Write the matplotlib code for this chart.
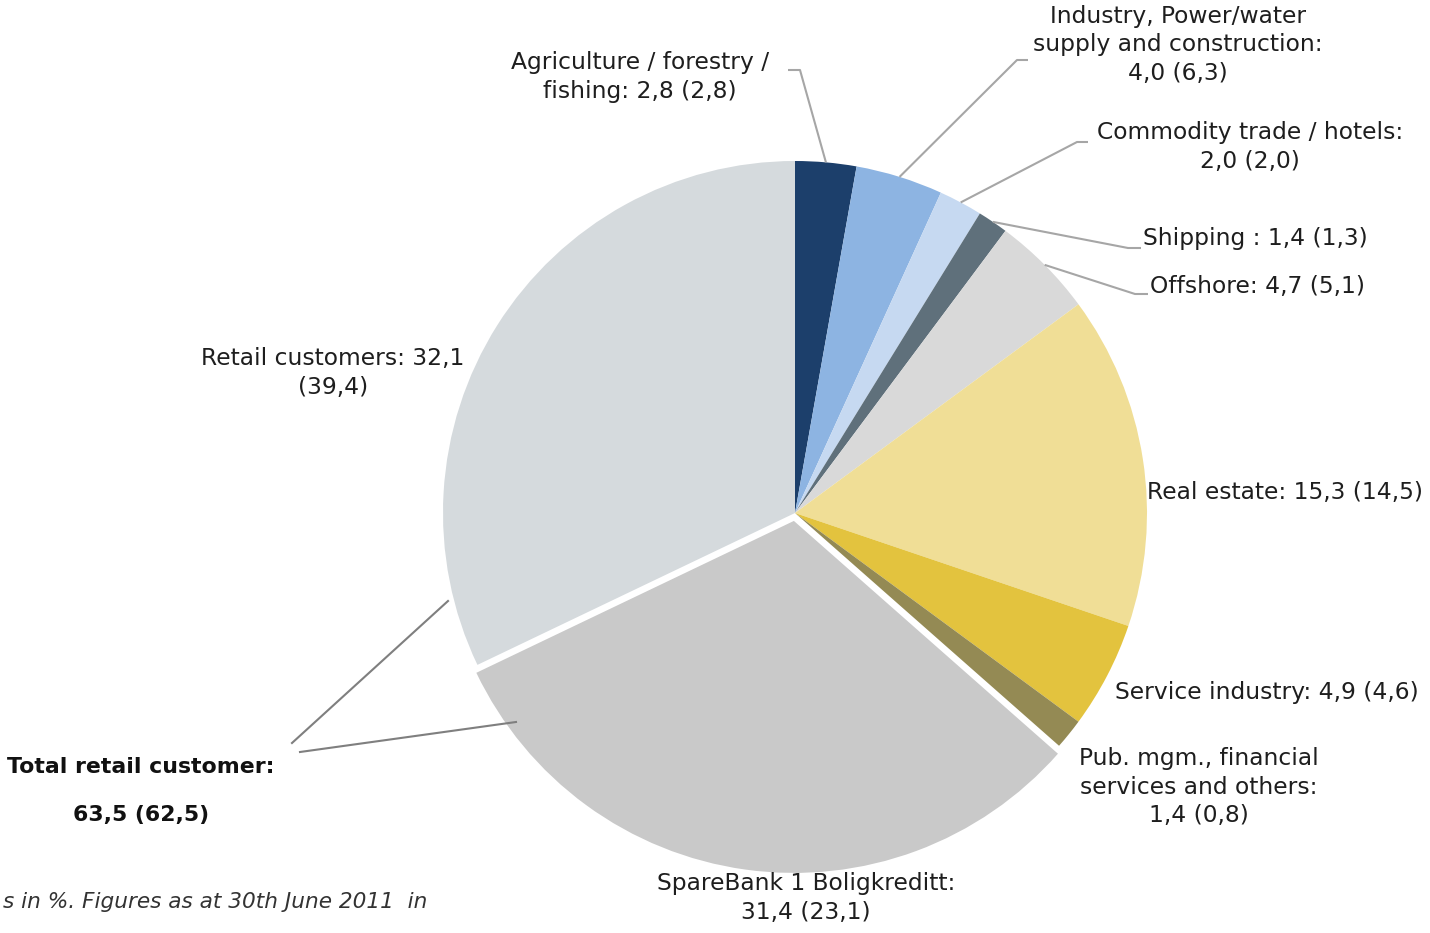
import numpy as np
import matplotlib
matplotlib.use("Agg")
import matplotlib.pyplot as plt

# ---- data ----
categories = ["Agriculture / forestry / fishing", "Industry, Power/water supply and construction",
              "Commodity trade / hotels", "Shipping", "Offshore", "Real estate",
              "Service industry", "Pub. mgm., financial services and others",
              "SpareBank 1 Boligkreditt", "Retail customers"]
values = [2.8, 4.0, 2.0, 1.4, 4.7, 15.3, 4.9, 1.4, 31.4, 32.1]
prev_values = [2.8, 6.3, 2.0, 1.3, 5.1, 14.5, 4.6, 0.8, 23.1, 39.4]
total_retail = 63.5
total_retail_prev = 62.5

colors = ["#1c3f6b", "#8db4e2", "#c6d9f1", "#5f707b", "#d9d9d9",
          "#f0de96", "#e3c33e", "#948a54", "#c9c9c9", "#d5dadd"]


def f(v):
    return f"{v:.1f}".replace(".", ",")


label_texts = [
    f"Agriculture / forestry /\nfishing: {f(values[0])} ({f(prev_values[0])})",
    f"Industry, Power/water\nsupply and construction:\n{f(values[1])} ({f(prev_values[1])})",
    f"Commodity trade / hotels:\n{f(values[2])} ({f(prev_values[2])})",
    f"Shipping : {f(values[3])} ({f(prev_values[3])})",
    f"Offshore: {f(values[4])} ({f(prev_values[4])})",
    f"Real estate: {f(values[5])} ({f(prev_values[5])})",
    f"Service industry: {f(values[6])} ({f(prev_values[6])})",
    f"Pub. mgm., financial\nservices and others:\n{f(values[7])} ({f(prev_values[7])})",
    f"SpareBank 1 Boligkreditt:\n{f(values[8])} ({f(prev_values[8])})",
    f"Retail customers: {f(values[9])}\n({f(prev_values[9])})",
]

W, H = 1430, 933
fig = plt.figure(figsize=(W / 100, H / 100), dpi=100)
ax = fig.add_axes([0, 0, 1, 1])


def Y(y):
    return H - y


cx, cy, R = 795, 513, 352
explode = [0, 0, 0, 0, 0, 0, 0, 0, 8, 0]   # in pixel units (data units)
wedges, _ = ax.pie(values, colors=colors, startangle=90, counterclock=False,
                   center=(cx, Y(cy)), radius=R, explode=explode,
                   wedgeprops=dict(linewidth=0))
ax.set_xlim(0, W)
ax.set_ylim(0, H)
ax.set_aspect("equal")
ax.axis("off")

TXT = "#1e1e1e"
FS = 16.8
LC = "#a6a6a6"
LS = 1.3

cum = np.cumsum([0] + values)


def rim(i, r=1.0):
    mid = (cum[i] + cum[i + 1]) / 2 / sum(values) * 2 * np.pi
    return cx + r * R * np.sin(mid), Y(cy) + r * R * np.cos(mid)


# (elbow, end) in pixel coords
leaders = {
    0: [(800, 70), (788, 70)],
    1: [(1017, 60), (1028, 60)],
    2: [(1077, 142), (1088, 142)],
    3: [(1128, 248), (1141, 248)],
    4: [(1135, 294), (1148, 294)],
}
for i, pts in leaders.items():
    x0, y0 = rim(i)
    xs = [x0] + [p[0] for p in pts]
    ys = [y0] + [Y(p[1]) for p in pts]
    ax.plot(xs, ys, color=LC, lw=1.5, solid_capstyle="butt")

# labels
ax.text(640, Y(77), label_texts[0], ha="center", va="center", fontsize=FS, color=TXT, linespacing=LS)
ax.text(1178, Y(45), label_texts[1], ha="center", va="center", fontsize=FS, color=TXT, linespacing=LS)
ax.text(1250, Y(147), label_texts[2], ha="center", va="center", fontsize=FS, color=TXT, linespacing=LS)
ax.text(1143, Y(239), label_texts[3], ha="left", va="center", fontsize=FS, color=TXT)
ax.text(1150, Y(286), label_texts[4], ha="left", va="center", fontsize=FS, color=TXT)
ax.text(1147, Y(493), label_texts[5], ha="left", va="center", fontsize=FS, color=TXT)
ax.text(1115, Y(693), label_texts[6], ha="left", va="center", fontsize=FS, color=TXT)
ax.text(1199, Y(787), label_texts[7], ha="center", va="center", fontsize=FS, color=TXT, linespacing=LS)
ax.text(806, Y(898), label_texts[8], ha="center", va="center", fontsize=FS, color=TXT, linespacing=LS)
ax.text(333, Y(373), label_texts[9], ha="center", va="center", fontsize=FS, color=TXT, linespacing=LS)

# total retail customer
ax.text(7, Y(767), "Total retail customer:", ha="left", va="center", fontsize=15.8,
        fontweight="bold", color="#111111")
ax.text(141, Y(815), f"{f(total_retail)} ({f(total_retail_prev)})", ha="center", va="center",
        fontsize=15.8, fontweight="bold", color="#111111")
ax.plot([292, 448], [Y(743), Y(601)], color="#7f7f7f", lw=1.5)
ax.plot([300, 516], [Y(752), Y(722)], color="#7f7f7f", lw=1.5)

# footnote (visible portion as in the reference)
ax.text(427, Y(902), "s in %. Figures as at 30th June 2011  in", ha="right", va="center",
        fontsize=15.6, style="italic", color="#333333")

fig.savefig("out.png", dpi=100)
